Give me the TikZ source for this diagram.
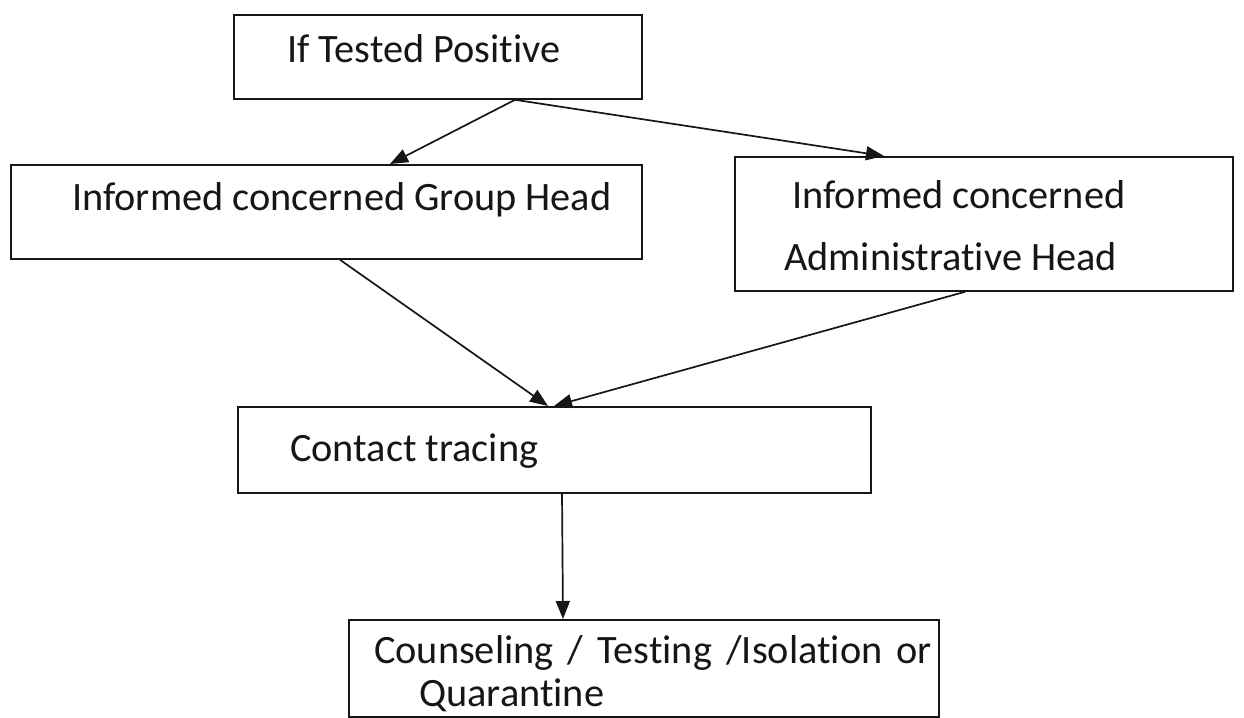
\documentclass[tikz,border=0pt]{standalone}
\usepackage{fontspec}
\setmainfont{Carlito}[Ligatures=NoCommon]
\usetikzlibrary{arrows.meta}
\definecolor{ink}{HTML}{161616}
\begin{document}
\begin{tikzpicture}[x=1pt,y=-1pt,
  box/.style={draw=ink, line width=1.8pt, rectangle, inner sep=0pt, anchor=north west},
  lbl/.style={anchor=base west, inner sep=0pt, font=\fontsize{40.3}{48}\selectfont, text=ink},
  flow/.style={draw=ink, line width=1.7pt, -{Triangle[length=18pt,width=14pt]}}]
  \useasboundingbox (0,0) rectangle (1244,717);
  \fill[white] (0,0) rectangle (1244,717);

  % boxes
  \node[box, minimum width=408pt, minimum height=84pt] (top) at (233,14) {};
  \node[box, minimum width=631pt, minimum height=94pt] (grp) at (10,164) {};
  \node[box, minimum width=498pt, minimum height=134pt] (adm) at (734,156) {};
  \node[box, minimum width=633pt, minimum height=86pt] (ct) at (237,406) {};
  \node[box, minimum width=590pt, minimum height=97pt] (cq) at (348,619) {};

  % texts
  \node[lbl] (topT) at (287,63) {If Tested Positive};
  \node[lbl] (grpT) at (72,210) {Informed concerned Group Head};
  \node[lbl] (admT1) at (792,208) {Informed concerned};
  \node[lbl] (admT2) at (784,270) {Administrative Head};
  \node[lbl] (ctT) at (290,461) {Contact tracing};
  \node[lbl] (cqT1) at (374,663) {\makebox[558pt][s]{Counseling / Testing /Isolation or}};
  \node[lbl] (cqT2) at (419,706) {Quarantine};

  % connectors
  \draw[flow] ([xshift=282pt]top.south west) -- ([xshift=380pt]grp.north west);
  \draw[flow] ([xshift=282pt]top.south west) -- ([xshift=150pt]adm.north west);
  \draw[flow] ([xshift=330pt]grp.south west) -- ([xshift=311pt]ct.north west);
  \draw[flow] ([xshift=231pt]adm.south west) -- ([xshift=317pt]ct.north west);
  \draw[flow] ([xshift=325pt]ct.south west) -- ([xshift=215pt]cq.north west);
\end{tikzpicture}
\end{document}
